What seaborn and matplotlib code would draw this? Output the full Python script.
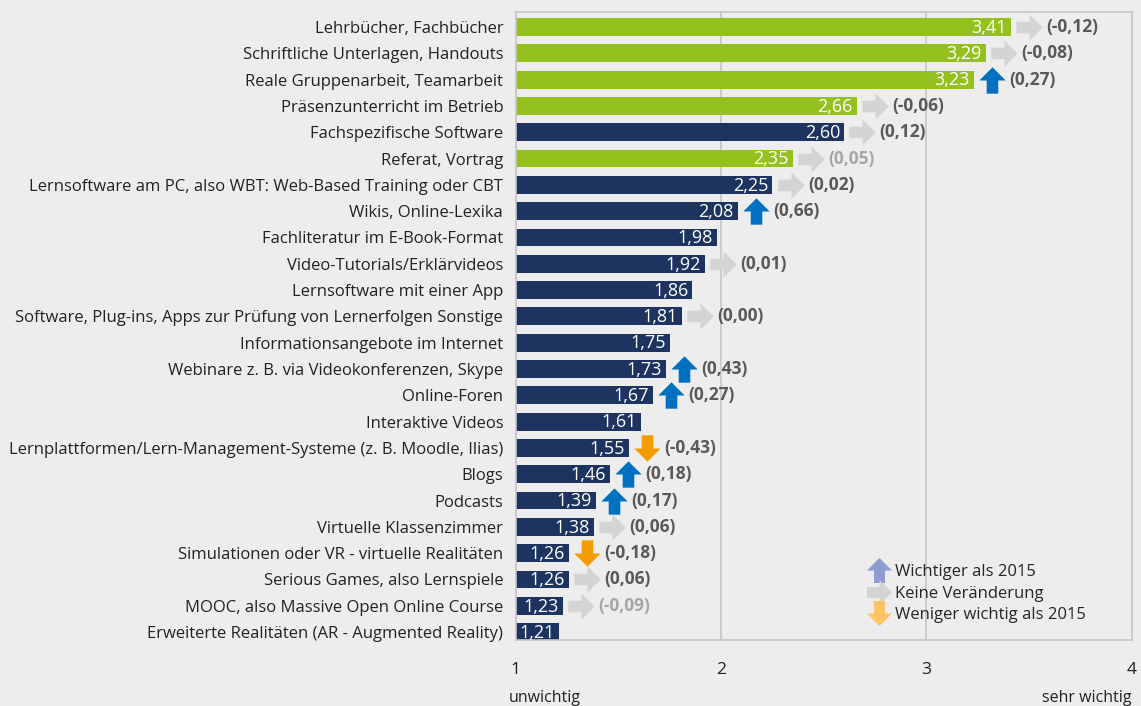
import numpy as np
import pandas as pd
import seaborn as sns
import matplotlib.pyplot as plt
from matplotlib.path import Path
from matplotlib.lines import Line2D

labels = [
    'Lehrbücher, Fachbücher',
    'Schriftliche Unterlagen, Handouts',
    'Reale Gruppenarbeit, Teamarbeit',
    'Präsenzunterricht im Betrieb',
    'Fachspezifische Software',
    'Referat, Vortrag',
    'Lernsoftware am PC, also WBT: Web-Based Training oder CBT',
    'Wikis, Online-Lexika',
    'Fachliteratur im E-Book-Format',
    'Video-Tutorials/Erklärvideos',
    'Lernsoftware mit einer App',
    'Software, Plug-ins, Apps zur Prüfung von Lernerfolgen Sonstige',
    'Informationsangebote im Internet',
    'Webinare z. B. via Videokonferenzen, Skype',
    'Online-Foren',
    'Interaktive Videos',
    'Lernplattformen/Lern-Management-Systeme (z. B. Moodle, Ilias)',
    'Blogs',
    'Podcasts',
    'Virtuelle Klassenzimmer',
    'Simulationen oder VR - virtuelle Realitäten',
    'Serious Games, also Lernspiele',
    'MOOC, also Massive Open Online Course',
    'Erweiterte Realitäten (AR - Augmented Reality)',
]
values = [3.41, 3.29, 3.23, 2.66, 2.60, 2.35, 2.25, 2.08, 1.98, 1.92, 1.86, 1.81,
          1.75, 1.73, 1.67, 1.61, 1.55, 1.46, 1.39, 1.38, 1.26, 1.26, 1.23, 1.21]
groups = ['green', 'green', 'green', 'green', 'navy', 'green'] + ['navy'] * 18
changes = [-0.12, -0.08, 0.27, -0.06, 0.12, 0.05, 0.02, 0.66, None, 0.01, None, 0.00,
           None, 0.43, 0.27, None, -0.43, 0.18, 0.17, 0.06, -0.18, 0.06, -0.09, None]
trends = ['same', 'same', 'up', 'same', 'same', 'same', 'same', 'up', None, 'same', None, 'same',
          None, 'up', 'up', None, 'down', 'up', 'up', 'same', 'down', 'same', 'same', None]
faded = [5, 22]  # rows whose change label is printed in light gray

df = pd.DataFrame({'label': labels, 'value': values, 'group': groups})

# block arrow marker
up = Path([(-0.22, -0.5), (0.22, -0.5), (0.22, 0.0), (0.5, 0.0), (0.0, 0.5),
           (-0.5, 0.0), (-0.22, 0.0), (-0.22, -0.5)], closed=True)
def rot(p, deg):
    a = np.deg2rad(deg)
    m = np.array([[np.cos(a), -np.sin(a)], [np.sin(a), np.cos(a)]])
    return Path(p.vertices @ m.T, p.codes)
arrow_marker = {'up': up, 'same': rot(up, -90), 'down': rot(up, 180)}
arrow_color = {'up': '#0070C0', 'same': '#D4D4D4', 'down': '#F39C00'}

bg = '#EDEDED'
sns.set_theme(style='white')
plt.rcParams['font.family'] = ['Open Sans', 'DejaVu Sans']

fig = plt.figure(figsize=(11.41, 7.06), dpi=100, facecolor=bg)
ax = fig.add_axes([0.452, 0.0935, 0.540, 0.8895], facecolor=bg)

sns.barplot(data=df, x='value', y='label', hue='group', dodge=False, legend=False,
            palette={'green': '#95C11F', 'navy': '#1D3461'}, width=0.68, ax=ax,
            saturation=1, linewidth=0)

ax.set_xlim(1, 4)
ax.set_ylim(23.3, -0.57)
ax.set_xticks([1, 2, 3, 4])
ax.set_xticklabels(['1', '2', '3', '4'], fontsize=12.5, color='#222222')
ax.tick_params(axis='x', length=0, pad=16)
ax.tick_params(axis='y', length=0, pad=9, labelsize=12, labelcolor='#222222')
ax.set_xlabel('')
ax.set_ylabel('')
ax.grid(axis='x', color='#C6C6C6', linewidth=1.2)
ax.set_axisbelow(True)
for s in ax.spines.values():
    s.set_color('#C6C6C6')
    s.set_linewidth(1.2)

for i, v in enumerate(values):
    ax.text(v - 0.02, i + 0.03, f'{v:.2f}'.replace('.', ','), color='white',
            ha='right', va='center', fontsize=13)
    t = trends[i]
    if t is None:
        continue
    ax.scatter(v + 0.088, i, marker=arrow_marker[t], s=360, color=arrow_color[t],
               linewidths=0, zorder=4, clip_on=False)
    c = changes[i]
    txt = '(' + f'{c:.2f}'.replace('.', ',') + ')'
    if c < 0:
        txt = '(-' + f'{abs(c):.2f}'.replace('.', ',') + ')'
    ax.text(v + 0.172, i, txt, ha='left', va='center', fontsize=12.5, fontweight='bold',
            color='#A6A6A6' if i in faded else '#595959')

ax.text(-0.012, -0.08, 'unwichtig', transform=ax.transAxes, ha='left', va='top',
        fontsize=11.5, color='#222222')
ax.text(1.0, -0.08, 'sehr wichtig', transform=ax.transAxes, ha='right', va='top',
        fontsize=11.5, color='#222222')

handles = [Line2D([], [], linestyle='none', marker=arrow_marker['up'], markersize=18,
                  markerfacecolor='#8E9CD2', markeredgewidth=0),
           Line2D([], [], linestyle='none', marker=arrow_marker['same'], markersize=18,
                  markerfacecolor='#D4D4D4', markeredgewidth=0),
           Line2D([], [], linestyle='none', marker=arrow_marker['down'], markersize=18,
                  markerfacecolor='#FFC466', markeredgewidth=0)]
ax.legend(handles, ['Wichtiger als 2015', 'Keine Veränderung', 'Weniger wichtig als 2015'],
          loc='lower left', bbox_to_anchor=(0.563, 0.014), frameon=False, fontsize=12,
          handlelength=1.0, handletextpad=0.45, labelspacing=0.32, borderpad=0)

fig.savefig('out.png', dpi=100, facecolor=bg)
